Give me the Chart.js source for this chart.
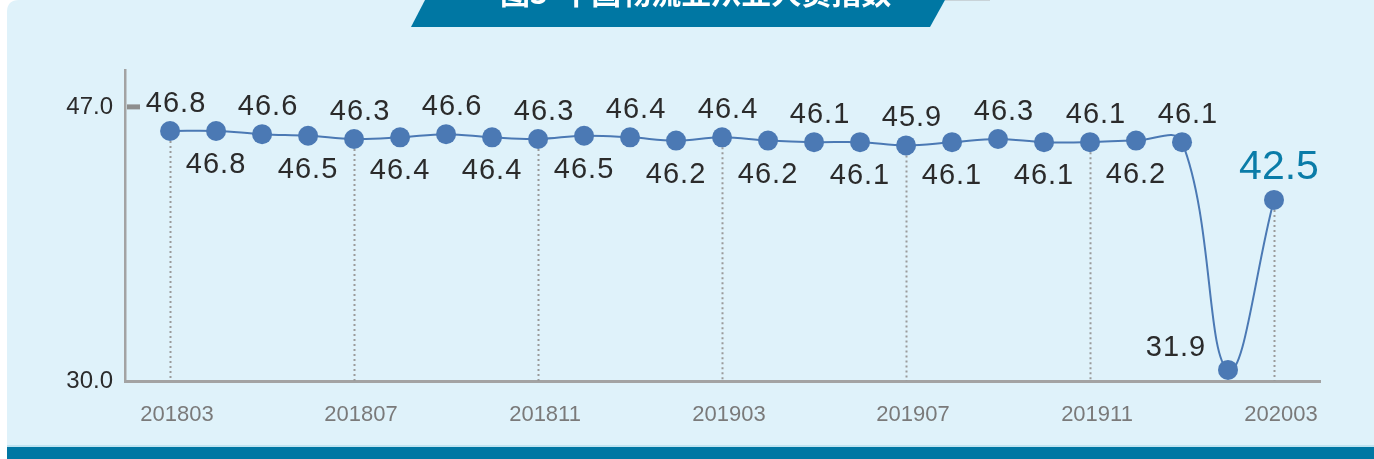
<!DOCTYPE html>
<html>
<head>
<meta charset="utf-8">
<script src="https://cdn.jsdelivr.net/npm/chart.js@4/dist/chart.umd.min.js"></script>
<style>
  html, body { margin: 0; padding: 0; background: #ffffff; }
  #wrap { width: 1374px; height: 459px; }
</style>
</head>
<body>
<div id="wrap"><canvas id="indexChart" width="1374" height="459"></canvas></div>
<script>
const months = ['201803', '201804', '201805', '201806', '201807', '201808', '201809', '201810',
  '201811', '201812', '201901', '201902', '201903', '201904', '201905', '201906', '201907',
  '201908', '201909', '201910', '201911', '201912', '202001', '202002', '202003'];
const values = [46.8, 46.8, 46.6, 46.5, 46.3, 46.4, 46.6, 46.4, 46.3, 46.5, 46.4, 46.2, 46.4,
  46.2, 46.1, 46.1, 45.9, 46.1, 46.3, 46.1, 46.1, 46.2, 46.1, 31.9, 42.5];
const xTickIdx = [0, 4, 8, 12, 16, 20, 24];
// the printed axis is offset from the plotted values, so keep both
const yTickValues = [31.21, 48.3];
const yTickLabels = ['30.0', '47.0'];
const titleText = '图3  中国物流业从业人员指数';

const teal = '#0077a3';
const pointBlue = '#4b79b4';
const fontFam = '"Liberation Sans", Arial, sans-serif';

// panel, banner and bottom band
const backdrop = {
  id: 'backdrop',
  beforeDraw(chart) {
    const c = chart.ctx;
    c.save();
    c.fillStyle = '#dff2fa';
    c.beginPath();
    c.moveTo(7, 12);
    c.quadraticCurveTo(7, 0, 19, 0);
    c.lineTo(1374, 0);
    c.lineTo(1374, 459);
    c.lineTo(7, 459);
    c.closePath();
    c.fill();

    c.fillStyle = teal;
    c.beginPath();
    c.moveTo(425, 0);
    c.lineTo(945, 0);
    c.lineTo(930, 27);
    c.lineTo(411, 27);
    c.closePath();
    c.fill();
    c.strokeStyle = '#c9d3d8';
    c.lineWidth = 1;
    c.beginPath();
    c.moveTo(945, 0.5);
    c.lineTo(990, 0.5);
    c.stroke();

    // title is cut off by the top edge
    c.fillStyle = '#ffffff';
    c.font = 'bold 30px "Noto Sans CJK SC", sans-serif';
    c.textAlign = 'left';
    c.textBaseline = 'alphabetic';
    c.fillText(titleText, 500, 4);

    c.fillStyle = '#bfe3f0';
    c.fillRect(7, 445, 1367, 2);
    c.fillStyle = teal;
    c.fillRect(7, 447, 1367, 12);
    c.restore();
  },
  beforeDatasetsDraw(chart) {
    const c = chart.ctx;
    const meta = chart.getDatasetMeta(0);
    const bottom = chart.chartArea.bottom;
    c.save();
    c.strokeStyle = '#9a9a9a';
    c.lineWidth = 2;
    c.setLineDash([2, 3]);
    xTickIdx.forEach(i => {
      const p = meta.data[i];
      c.beginPath();
      c.moveTo(Math.round(p.x) + 0.5, p.y);
      c.lineTo(Math.round(p.x) + 0.5, bottom);
      c.stroke();
    });
    c.setLineDash([]);
    // short tick mark on the upper y label
    const ys = chart.scales.y;
    const yt = ys.getPixelForValue(yTickValues[1]);
    c.fillStyle = '#8e8e8e';
    c.fillRect(ys.right + 2, yt - 2.5, 13, 5);
    c.restore();
  },
  afterDatasetsDraw(chart) {
    const c = chart.ctx;
    const meta = chart.getDatasetMeta(0);
    c.save();
    c.textAlign = 'center';
    c.textBaseline = 'middle';
    values.forEach((v, i) => {
      const p = meta.data[i];
      let x = p.x, y;
      c.fillStyle = '#2b2b2b';
      c.font = '29px ' + fontFam;
      c.letterSpacing = '1px';
      if (i === values.length - 1) {
        c.fillStyle = '#0a7ca8';
        c.font = '41px ' + fontFam;
        c.letterSpacing = '0px';
        x = p.x + 5;
        y = p.y - 32;
      } else if (i === values.length - 2) {
        x = p.x - 52;
        y = p.y - 22;
      } else if (i % 2 === 0) {
        x = p.x + 6;
        y = p.y - 27;
      } else {
        y = p.y + 34;
      }
      c.fillText(v.toFixed(1), x, y);
    });
    c.restore();
  }
};

const ctx = document.getElementById('indexChart').getContext('2d');
const indexChart = new Chart(ctx, {
  type: 'line',
  data: {
    datasets: [{
      data: values.map((v, i) => ({ x: i, y: v })),
      borderColor: pointBlue,
      borderWidth: 2,
      tension: 0.4,
      pointRadius: 10,
      pointBackgroundColor: pointBlue,
      pointBorderWidth: 0,
      clip: false
    }]
  },
  options: {
    responsive: false,
    animation: false,
    layout: { padding: { left: 0, top: 70, right: 54, bottom: 0 } },
    plugins: {
      legend: { display: false },
      tooltip: { enabled: false }
    },
    scales: {
      x: {
        type: 'linear',
        min: -0.98,
        max: 25,
        afterFit: s => { s.height = 78; },
        afterBuildTicks: s => { s.ticks = xTickIdx.map(v => ({ value: v })); },
        grid: { display: false, drawTicks: false },
        border: { display: true, color: '#a3a3a3', width: 3 },
        ticks: {
          padding: 21,
          labelOffset: 7,
          color: '#7a7a7a',
          font: { family: fontFam, size: 22 },
          callback: v => months[v]
        }
      },
      y: {
        min: yTickValues[0],
        max: 50.6,
        afterFit: s => { s.width = 125; },
        afterBuildTicks: s => { s.ticks = yTickValues.map(v => ({ value: v })); },
        grid: { display: false, drawTicks: false },
        border: { display: true, color: '#a3a3a3', width: 2.5 },
        ticks: {
          padding: 12,
          color: '#2b2b2b',
          font: { family: fontFam, size: 24 },
          callback: (v, idx) => yTickLabels[idx]
        }
      }
    }
  },
  plugins: [backdrop]
});
</script>
</body>
</html>
